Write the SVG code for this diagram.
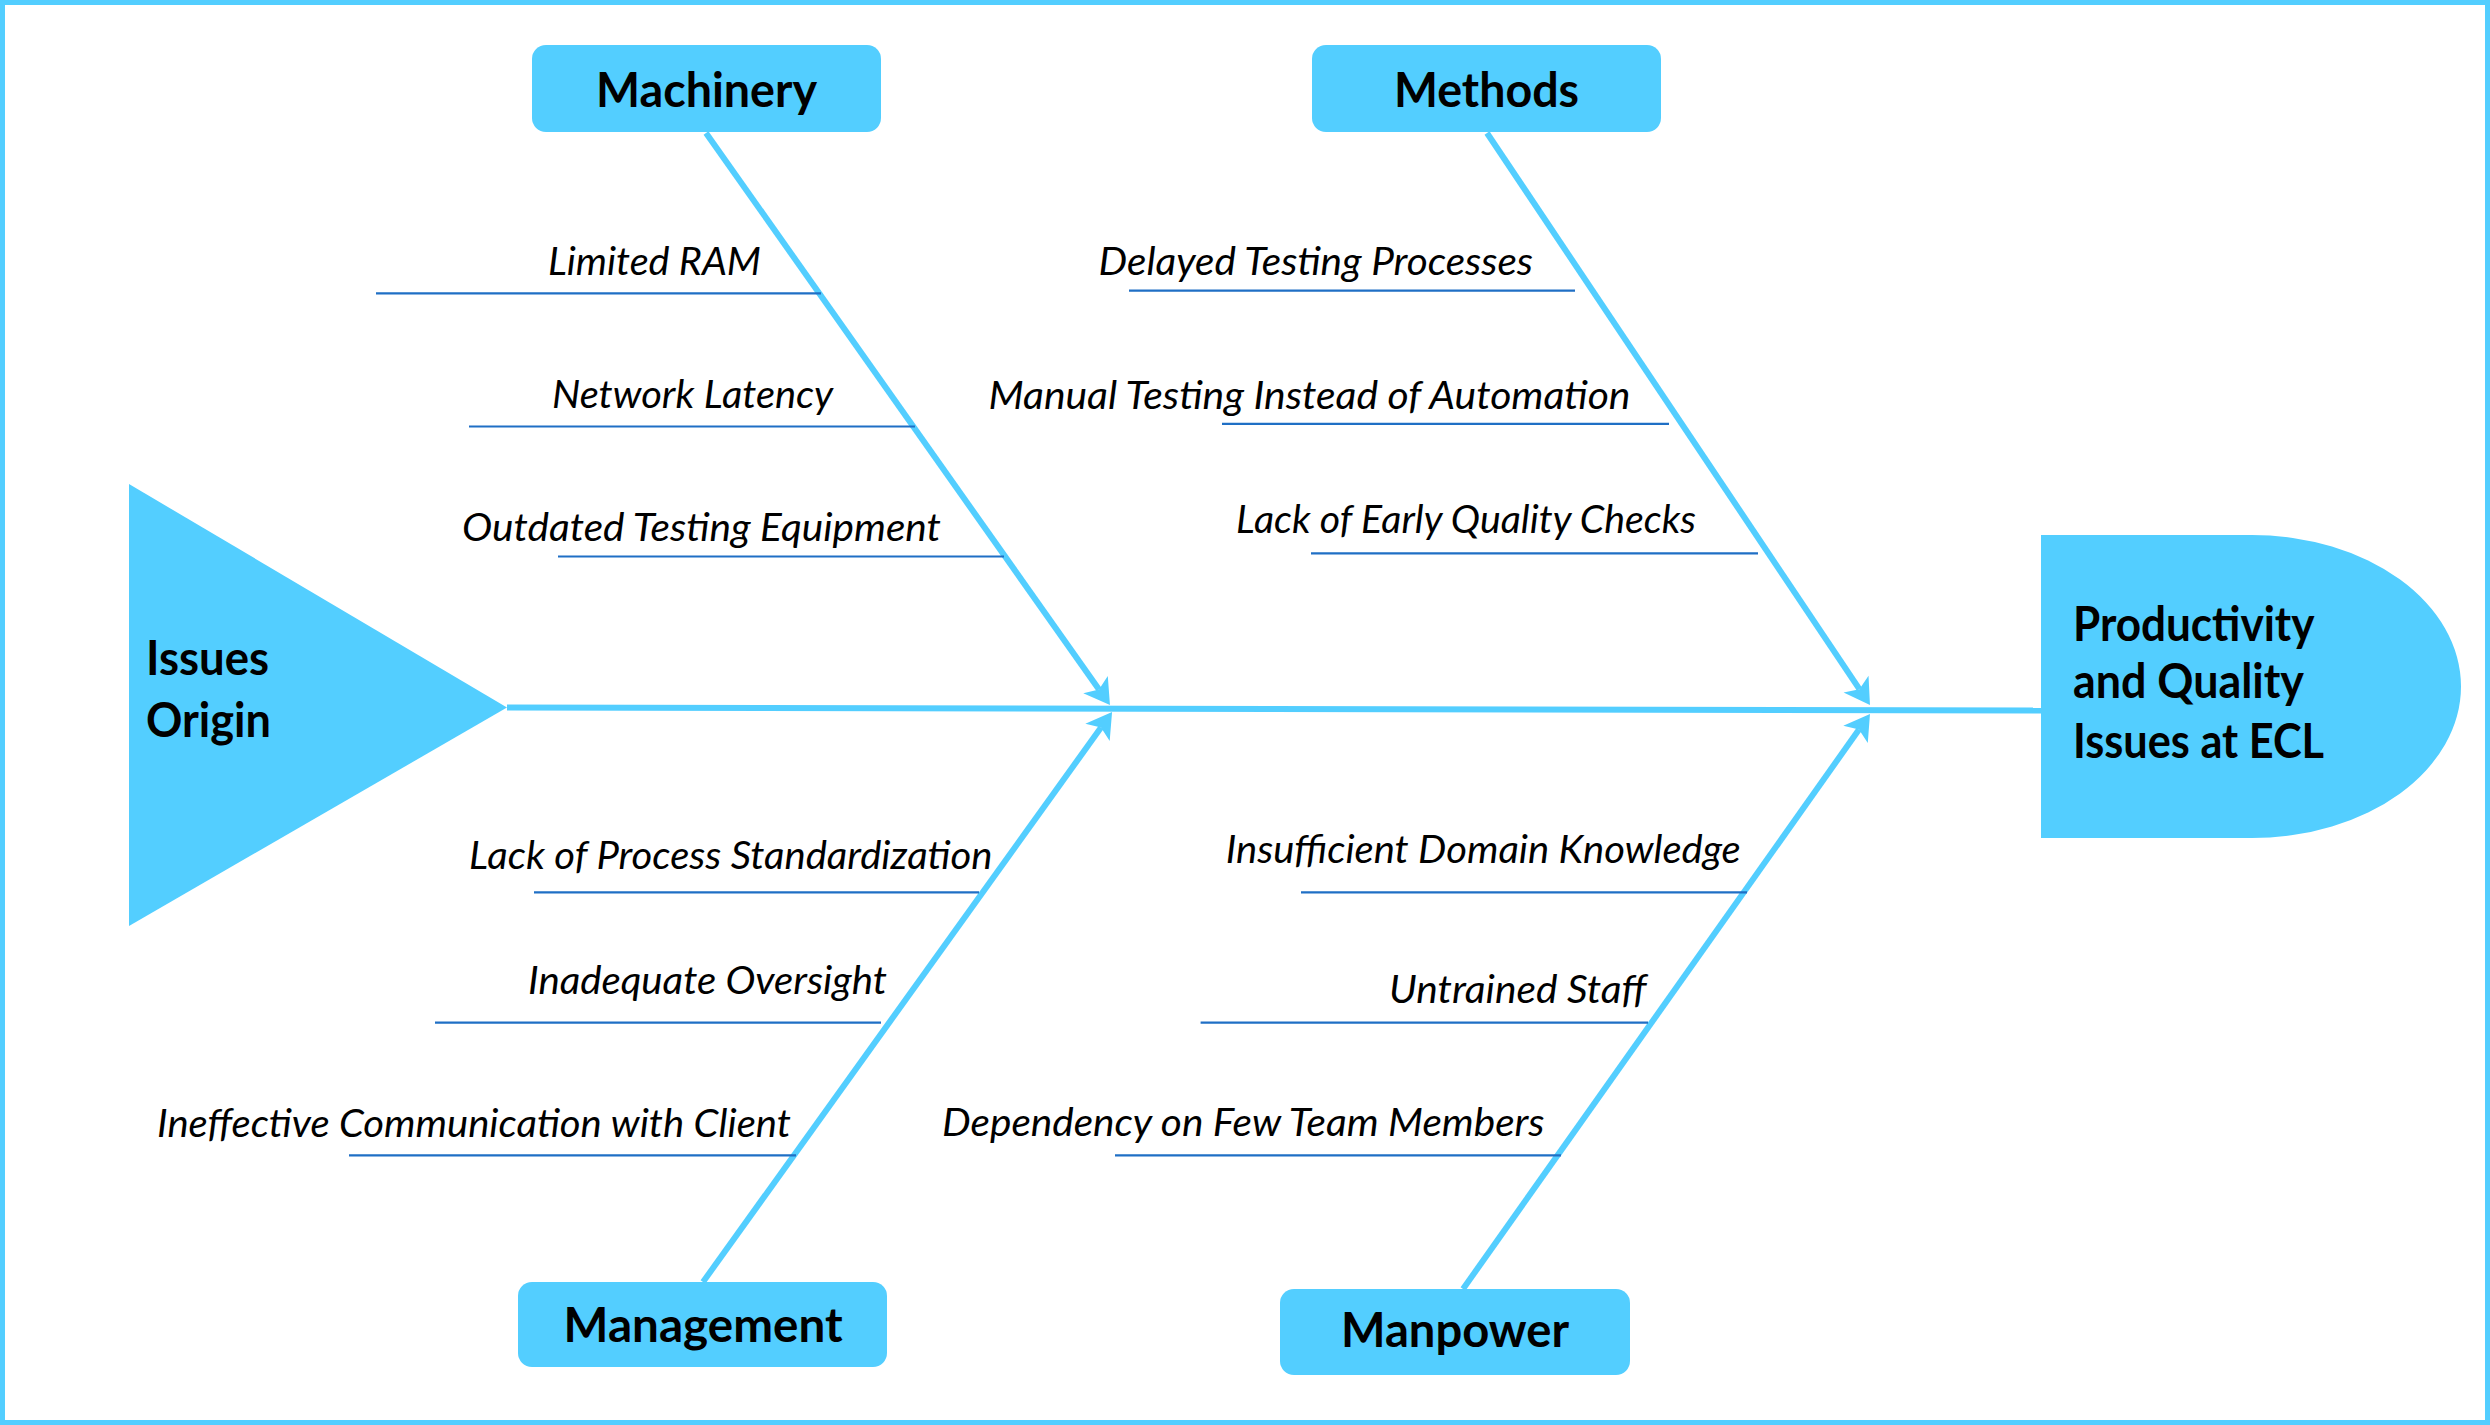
<svg xmlns="http://www.w3.org/2000/svg" width="2490" height="1425" viewBox="0 0 2490 1425">
<style>
.fill{fill:#53CEFF}
.bone{stroke:#53CEFF;stroke-width:6;fill:none}
.sub{stroke:#1F6FC5;stroke-width:2.2}
.head{font-family:Lato,"Liberation Sans",sans-serif;font-weight:bold;font-size:47px;fill:#000}
.cause{font-family:Lato,"Liberation Sans",sans-serif;font-style:italic;font-size:38px;fill:#000}
</style>
<defs>
<marker id="arr" markerUnits="userSpaceOnUse" markerWidth="25" markerHeight="30" refX="6" refY="15" orient="auto" overflow="visible">
<path d="M0,0 L25,15 L0,30 L6,15 z" fill="#53CEFF"/>
</marker>
</defs>
<rect x="2.5" y="2.5" width="2485" height="1420" fill="#fff" stroke="#53CEFF" stroke-width="5"/>

<g id="connectors">
<line class="bone" x1="507" y1="707.5" x2="2041" y2="710.5"/>
<line class="bone" x1="706" y1="133" x2="1099" y2="689.5" marker-end="url(#arr)"/>
<line class="bone" x1="703" y1="1282" x2="1101" y2="727.5" marker-end="url(#arr)"/>
<line class="bone" x1="1487" y1="133" x2="1859.4" y2="689.2" marker-end="url(#arr)"/>
<line class="bone" x1="1463" y1="1289" x2="1859" y2="729.5" marker-end="url(#arr)"/>
<line class="sub" x1="376" y1="293.4" x2="821" y2="293.4"/>
<line class="sub" x1="469" y1="426.5" x2="915" y2="426.5"/>
<line class="sub" x1="558" y1="556.5" x2="1004" y2="556.5"/>
<line class="sub" x1="1129" y1="290.6" x2="1575" y2="290.6"/>
<line class="sub" x1="1222" y1="423.8" x2="1669" y2="423.8"/>
<line class="sub" x1="1311" y1="553.3" x2="1758" y2="553.3"/>
<line class="sub" x1="534" y1="892.3" x2="979" y2="892.3"/>
<line class="sub" x1="435" y1="1022.7" x2="881" y2="1022.7"/>
<line class="sub" x1="349" y1="1155.4" x2="796" y2="1155.4"/>
<line class="sub" x1="1301" y1="892.3" x2="1747" y2="892.3"/>
<line class="sub" x1="1200.6" y1="1022.7" x2="1648" y2="1022.7"/>
<line class="sub" x1="1115" y1="1155.4" x2="1561" y2="1155.4"/>
</g>

<g id="head-origin">
<polygon class="fill" points="129,484 507,707.5 129,926"/>
<text class="head" x="146" y="675" textLength="123" lengthAdjust="spacingAndGlyphs">Issues</text>
<text class="head" x="146" y="736.7" textLength="125" lengthAdjust="spacingAndGlyphs">Origin</text>
</g>

<g id="effect">
<path class="fill" d="M2041,535 H2252 A209,151.5 0 0 1 2252,838 H2041 Z"/>
<text class="head" x="2073" y="640.5" textLength="241.5" lengthAdjust="spacingAndGlyphs">Productivity</text>
<text class="head" x="2073" y="698" textLength="231" lengthAdjust="spacingAndGlyphs">and Quality</text>
<text class="head" x="2073" y="757.8" textLength="251" lengthAdjust="spacingAndGlyphs">Issues at ECL</text>
</g>

<g id="machinery">
<rect class="fill" x="532" y="45" width="349" height="87" rx="14"/>
<text class="head" x="596" y="106.5" textLength="221" lengthAdjust="spacingAndGlyphs">Machinery</text>
</g>
<g id="methods">
<rect class="fill" x="1312" y="45" width="349" height="87" rx="14"/>
<text class="head" x="1394" y="106.5" textLength="185" lengthAdjust="spacingAndGlyphs">Methods</text>
</g>
<g id="management">
<rect class="fill" x="518" y="1282" width="369" height="85" rx="14"/>
<text class="head" x="563.6" y="1341.7" textLength="279" lengthAdjust="spacingAndGlyphs">Management</text>
</g>
<g id="manpower">
<rect class="fill" x="1280" y="1289" width="350" height="86" rx="14"/>
<text class="head" x="1341" y="1347" textLength="228" lengthAdjust="spacingAndGlyphs">Manpower</text>
</g>

<g id="cause-limited-ram"><text class="cause" x="548" y="274.5" textLength="213" lengthAdjust="spacingAndGlyphs">Limited RAM</text></g>
<g id="cause-network-latency"><text class="cause" x="552" y="407.7" textLength="281" lengthAdjust="spacingAndGlyphs">Network Latency</text></g>
<g id="cause-outdated"><text class="cause" x="462" y="541" textLength="479" lengthAdjust="spacingAndGlyphs">Outdated Testing Equipment</text></g>
<g id="cause-delayed"><text class="cause" x="1098.5" y="274.5" textLength="434.5" lengthAdjust="spacingAndGlyphs">Delayed Testing Processes</text></g>
<g id="cause-manual"><text class="cause" x="988.5" y="408.6" textLength="642" lengthAdjust="spacingAndGlyphs">Manual Testing Instead of Automation</text></g>
<g id="cause-early-quality"><text class="cause" x="1236" y="533" textLength="460" lengthAdjust="spacingAndGlyphs">Lack of Early Quality Checks</text></g>
<g id="cause-standardization"><text class="cause" x="469" y="868.7" textLength="523.5" lengthAdjust="spacingAndGlyphs">Lack of Process Standardization</text></g>
<g id="cause-oversight"><text class="cause" x="528" y="993.6" textLength="359" lengthAdjust="spacingAndGlyphs">Inadequate Oversight</text></g>
<g id="cause-communication"><text class="cause" x="157" y="1137" textLength="634" lengthAdjust="spacingAndGlyphs">Ineffective Communication with Client</text></g>
<g id="cause-domain"><text class="cause" x="1225.7" y="862.7" textLength="515" lengthAdjust="spacingAndGlyphs">Insufficient Domain Knowledge</text></g>
<g id="cause-untrained"><text class="cause" x="1389" y="1002.8" textLength="257.6" lengthAdjust="spacingAndGlyphs">Untrained Staff</text></g>
<g id="cause-dependency"><text class="cause" x="942" y="1135.5" textLength="602.5" lengthAdjust="spacingAndGlyphs">Dependency on Few Team Members</text></g>
</svg>
